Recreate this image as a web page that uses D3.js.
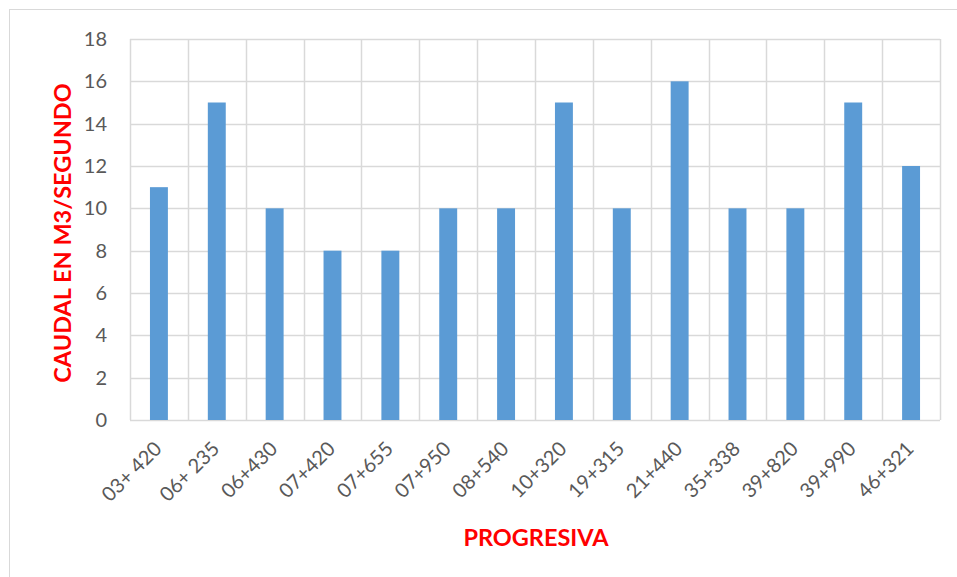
<!DOCTYPE html>
<html>
<head>
<meta charset="utf-8">
<script src="https://cdn.jsdelivr.net/npm/d3@7/dist/d3.min.js"></script>
<style>
  html, body { margin: 0; padding: 0; background: #fff; }
  svg { display: block; }
</style>
</head>
<body>
<svg id="chart" width="957" height="577"></svg>
<script>
// Caudal por progresiva
const categories = ["03+ 420", "06+ 235", "06+430", "07+420", "07+655", "07+950", "08+540",
                    "10+320", "19+315", "21+440", "35+338", "39+820", "39+990", "46+321"];
const caudal = [11, 15, 10, 8, 8, 10, 10, 15, 10, 16, 10, 10, 15, 12];
const yTicks = [0, 2, 4, 6, 8, 10, 12, 14, 16, 18];

const svg = d3.select("#chart");
const W = 957, H = 577;
const plot = { left: 130, top: 39, right: 940, bottom: 420 };
const font = "Lato, 'Open Sans', sans-serif";

// chart frame
svg.append("rect")
  .attr("x", 9.5).attr("y", 9.5)
  .attr("width", W + 20).attr("height", H + 20)
  .attr("fill", "#fff").attr("stroke", "#d9d9d9").attr("stroke-width", 1);

const x = d3.scaleBand().domain(categories)
  .range([plot.left, plot.right]).paddingInner(0.69).paddingOuter(0.345);
const xGrid = d3.scaleBand().domain(categories).range([plot.left, plot.right]);
const y = d3.scaleLinear().domain([0, 18]).range([plot.bottom, plot.top]);

// horizontal gridlines
svg.append("g").selectAll("line").data(yTicks).join("line")
  .attr("x1", plot.left).attr("x2", plot.right)
  .attr("y1", d => Math.round(y(d)) + 0.5).attr("y2", d => Math.round(y(d)) + 0.5)
  .attr("stroke", "#d9d9d9").attr("stroke-width", 1.5);

// vertical gridlines at category boundaries
const bounds = categories.map(c => xGrid(c)).concat([plot.right]);
svg.append("g").selectAll("line").data(bounds).join("line")
  .attr("x1", d => Math.round(d) + 0.5).attr("x2", d => Math.round(d) + 0.5)
  .attr("y1", plot.top).attr("y2", plot.bottom)
  .attr("stroke", "#d9d9d9").attr("stroke-width", 1.5);

// bars
svg.append("g").selectAll("rect").data(categories).join("rect")
  .attr("x", d => x(d))
  .attr("width", x.bandwidth())
  .attr("y", (d, i) => y(caudal[i]))
  .attr("height", (d, i) => y(0) - y(caudal[i]))
  .attr("fill", "#5b9bd5");

// y axis labels
const yAxis = d3.axisLeft(y).tickValues(yTicks).tickSize(0).tickPadding(0);
const gy = svg.append("g").attr("transform", `translate(${plot.left - 23},0)`).call(yAxis);
gy.select(".domain").remove();
gy.selectAll("text")
  .attr("font-family", font).attr("font-size", 20).attr("fill", "#595959");

// x axis labels
const xAxis = d3.axisBottom(x).tickSize(0).tickPadding(0);
const gx = svg.append("g").attr("transform", `translate(0,${plot.bottom})`).call(xAxis);
gx.select(".domain").remove();
gx.selectAll("text")
  .attr("font-family", font).attr("font-size", 20).attr("fill", "#595959")
  .attr("text-anchor", "end")
  .attr("dy", null).attr("y", 0)
  .attr("transform", "translate(4,30) rotate(-45)");

// axis titles
svg.append("text")
  .attr("x", 536).attr("y", 546)
  .attr("text-anchor", "middle")
  .attr("font-family", font).attr("font-size", 23.5).attr("font-weight", "bold")
  .attr("fill", "#ff0000")
  .text("PROGRESIVA");

svg.append("text")
  .attr("transform", "translate(71,233) rotate(-90)")
  .attr("text-anchor", "middle")
  .attr("font-family", font).attr("font-size", 23.5).attr("font-weight", "bold")
  .attr("fill", "#ff0000")
  .text("CAUDAL EN M3/SEGUNDO");
</script>
</body>
</html>
